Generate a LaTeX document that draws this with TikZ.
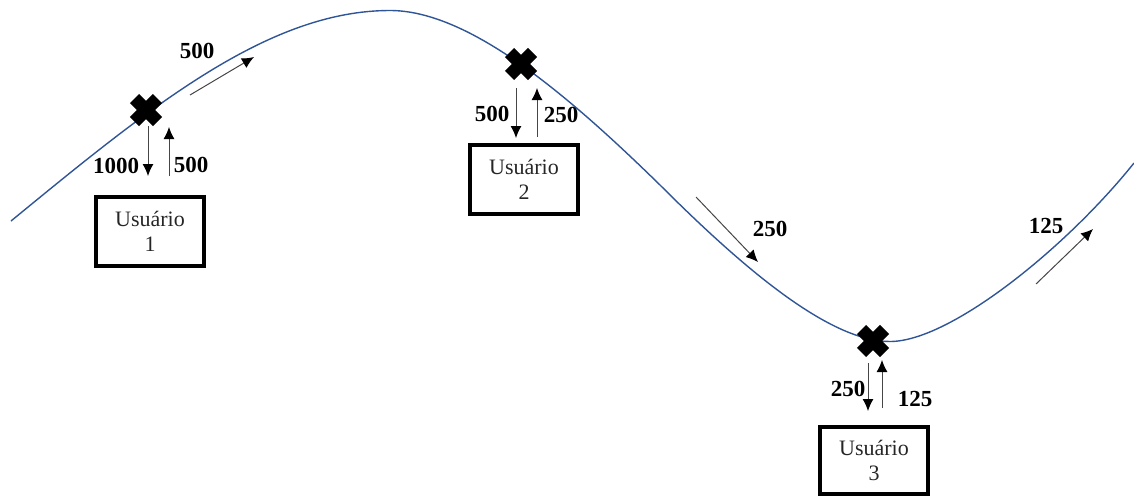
\documentclass[tikz,border=0pt]{standalone}
\usepackage{fontspec}
\setmainfont{Liberation Serif}
\usetikzlibrary{arrows.meta,calc}
\definecolor{curveblue}{RGB}{47,85,151}
\definecolor{arrowgray}{RGB}{70,70,70}
\tikzset{
  x=1pt,y=-1pt,
  userbox/.style={draw=black,line width=4pt,minimum width=108pt,minimum height=69pt,align=center,inner sep=0pt,font=\fontsize{22}{25}\selectfont,text=black!85},
  val/.style={font=\bfseries\fontsize{23}{25}\selectfont,inner sep=0pt},
  flow/.style={draw=arrowgray,line width=1pt,-{Latex[length=12pt,width=11pt,color=black]}},
  crossbar/.style={line width=13pt,black},
}
\begin{document}
\begin{tikzpicture}
\useasboundingbox (0,0) rectangle (1134,496);
\coordinate (x1) at (146,110);
\coordinate (x2) at (521,64);
\coordinate (x3) at (873,341);
\coordinate (start) at (11,221);
\coordinate (peak) at (390,10.5);
\coordinate (mid) at (660,185);
\coordinate (low) at (890,341.5);
\coordinate (end) at (1134,163);
\draw[curveblue,line width=1.4pt] (start)
  .. controls (150,107) and (268,10.5) .. (peak)
  .. controls (470,10.5) and (570,97) .. (mid)
  .. controls (745,270) and (830,341.5) .. (low)
  .. controls (950,341.5) and (1066,248) .. (end);
\foreach \c in {x1,x2,x3}{
  \draw[crossbar] ($(\c)+(-11.5,-11.5)$) -- ($(\c)+(11.5,11.5)$);
  \draw[crossbar] ($(\c)+(-11.5,11.5)$) -- ($(\c)+(11.5,-11.5)$);
}
\node[userbox] (u1) at (150,231) {Usuário\\1};
\node[userbox] (u2) at (524,179) {Usuário\\2};
\node[userbox,minimum height=67pt] (u3) at (874,460) {Usuário\\3};
\coordinate (a1s) at (148,126); \coordinate (a1e) at (148,176);
\coordinate (b1s) at (169,176); \coordinate (b1e) at (169,127);
\coordinate (c1s) at (190,95);  \coordinate (c1e) at (254,57);
\coordinate (a2s) at (516,88);  \coordinate (a2e) at (516,138);
\coordinate (b2s) at (537,137); \coordinate (b2e) at (537,88);
\coordinate (c2s) at (696,197); \coordinate (c2e) at (758,262);
\coordinate (a3s) at (868,363); \coordinate (a3e) at (868,411);
\coordinate (b3s) at (882,408); \coordinate (b3e) at (882,360);
\coordinate (c3s) at (1036,284);\coordinate (c3e) at (1093,229);
\foreach \p in {a1,b1,c1,a2,b2,c2,a3,b3,c3}{
  \draw[flow] (\p s) -- (\p e);
}
\node[val] (l1) at (197,51) {500};
\node[val] (l2) at (116,166) {1000};
\node[val] (l3) at (191,165) {500};
\node[val] (l4) at (492,114) {500};
\node[val] (l5) at (561,115) {250};
\node[val] (l6) at (770,229) {250};
\node[val] (l7) at (1046,226) {125};
\node[val] (l8) at (848,389) {250};
\node[val] (l9) at (915,399) {125};
\end{tikzpicture}
\end{document}
